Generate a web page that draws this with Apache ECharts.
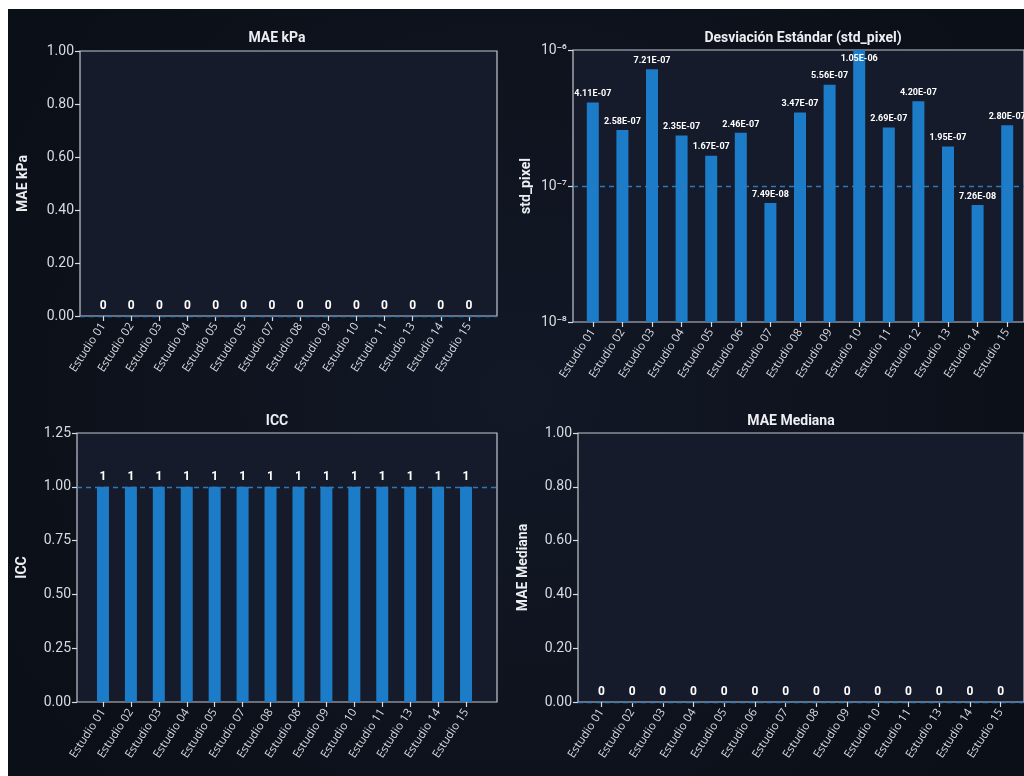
<!DOCTYPE html>
<html>
<head>
<meta charset="utf-8">
<script src="https://cdn.jsdelivr.net/npm/echarts@6/dist/echarts.min.js"></script>
<style>
  html, body { margin: 0; padding: 0; background: #ffffff; overflow: hidden; }
  #chart { position: absolute; left: 8px; top: 9px; width: 1016px; height: 767px; }
</style>
</head>
<body>
<div id="chart"></div>
<script>
// Study labels per metric (as exported for each panel)
const catsMaeKpa = ['Estudio 01','Estudio 02','Estudio 03','Estudio 04','Estudio 05','Estudio 05','Estudio 07','Estudio 08','Estudio 09','Estudio 10','Estudio 11','Estudio 13','Estudio 14','Estudio 15'];
const maeKpa = [0,0,0,0,0,0,0,0,0,0,0,0,0,0];

const catsStd = ['Estudio 01','Estudio 02','Estudio 03','Estudio 04','Estudio 05','Estudio 06','Estudio 07','Estudio 08','Estudio 09','Estudio 10','Estudio 11','Estudio 12','Estudio 13','Estudio 14','Estudio 15'];
const stdPixel = [4.11e-7, 2.58e-7, 7.21e-7, 2.35e-7, 1.67e-7, 2.46e-7, 7.49e-8, 3.47e-7, 5.56e-7, 1.05e-6, 2.69e-7, 4.20e-7, 1.95e-7, 7.26e-8, 2.80e-7];

const catsIcc = ['Estudio 01','Estudio 02','Estudio 03','Estudio 04','Estudio 05','Estudio 07','Estudio 08','Estudio 08','Estudio 09','Estudio 10','Estudio 11','Estudio 13','Estudio 14','Estudio 15'];
const icc = [1,1,1,1,1,1,1,1,1,1,1,1,1,1];

const catsMaeMed = ['Estudio 01','Estudio 02','Estudio 03','Estudio 04','Estudio 05','Estudio 06','Estudio 07','Estudio 08','Estudio 09','Estudio 10','Estudio 11','Estudio 13','Estudio 14','Estudio 15'];
const maeMed = [0,0,0,0,0,0,0,0,0,0,0,0,0,0];

// Reference levels drawn as dashed lines
const refMaeKpa = 0;
const refStd = 1e-7;
const refIcc = 1;
const refMaeMed = 0;

// Log panel range (std_pixel), in powers of ten
const stdLogMin = -8;
const stdLogMax = -6;

const TEXT = '#eceef2';
const TICK = '#d8dbe1';
const FRAME = '#c3c8d0';
const BAR = '#1d7cc8';
const DASH = '#3079b8';
const FONT = 'Roboto, "Noto Sans", sans-serif';

const SUP = { '-': '\u207b', '0': '\u2070', '1': '\u00b9', '2': '\u00b2', '3': '\u00b3', '4': '\u2074', '5': '\u2075', '6': '\u2076', '7': '\u2077', '8': '\u2078', '9': '\u2079' };
function powLabel(exp) {
  const e = String(Math.round(exp));
  return '10' + e.split('').map(c => SUP[c]).join('');
}
function sciLabel(v) {
  const e = Math.floor(Math.log10(v) + 1e-9);
  const m = v / Math.pow(10, e);
  const sign = e < 0 ? '-' : '+';
  return m.toFixed(2) + 'E' + sign + String(Math.abs(e)).padStart(2, '0');
}

// The std panel is plotted in decades above its floor, so bars grow from the bottom
const toDecades = v => Math.log10(v) - stdLogMin;
const decadeSpan = stdLogMax - stdLogMin;

const grids = [], xAxes = [], yAxes = [], series = [], titles = [];

function panel(p) {
  const fi = grids.length;
  // frame grid: background, border, visible y axis, dashed reference line
  grids.push({ left: p.frame.left, top: p.frame.top, width: p.frame.width, height: p.frame.height,
    show: true, backgroundColor: '#151b2b', borderColor: FRAME, borderWidth: 1.2 });
  // bar grid: inset area holding the categories
  grids.push({ left: p.bars.left, top: p.frame.top, width: p.bars.width, height: p.frame.height, show: false });

  const yBase = { type: 'value', min: p.min, max: p.max, interval: p.interval };

  xAxes.push({ gridIndex: fi, type: 'value', min: 0, max: 1, show: false });
  xAxes.push({ gridIndex: fi + 1, type: 'category', data: p.cats,
    axisLine: { show: false },
    axisTick: { show: true, alignWithLabel: true, length: 5, lineStyle: { color: TICK, width: 1.2 } },
    axisLabel: { interval: 0, rotate: 57, color: TICK, fontFamily: '"Open Sans", sans-serif', fontSize: 11.5, margin: 8 },
    splitLine: { show: false } });

  yAxes.push(Object.assign({}, yBase, { gridIndex: fi,
    name: p.yName, nameLocation: 'middle', nameGap: p.nameGap,
    nameTextStyle: { color: TEXT, fontWeight: 'bold', fontSize: 14, fontFamily: FONT },
    axisLine: { show: false },
    axisTick: { show: true, length: 5, lineStyle: { color: TICK, width: 1.2 } },
    axisLabel: { color: TICK, fontSize: 14, fontFamily: FONT, margin: 6, formatter: p.tickFmt },
    splitLine: { show: false } }));
  yAxes.push(Object.assign({}, yBase, { gridIndex: fi + 1, show: false, splitLine: { show: false } }));

  series.push({ type: 'line', xAxisIndex: fi, yAxisIndex: fi, data: [], silent: true,
    markLine: { symbol: 'none', silent: true, label: { show: false },
      lineStyle: { color: DASH, type: [5, 4], width: 1.3 },
      data: [{ yAxis: p.ref }] } });
  series.push({ type: 'bar', xAxisIndex: fi + 1, yAxisIndex: fi + 1,
    // values beyond the axis top get their label inside the clipped bar
    data: p.values.map(v => v > p.max ? { value: v, label: { position: 'insideTop' } } : v),
    barWidth: 12, itemStyle: { color: BAR }, z: 3,
    label: { show: true, position: 'top', distance: 4, color: '#ffffff', fontWeight: 'bold',
      fontSize: p.labelSize, fontFamily: FONT, formatter: d => p.fmt(d) } });

  titles.push({ text: p.title, left: p.titleX, top: p.titleY, textAlign: 'center',
    textStyle: { color: TEXT, fontWeight: 'bold', fontSize: 14, fontFamily: FONT } });
}

panel({ title: 'MAE kPa', titleX: 264, titleY: 17, yName: 'MAE kPa', nameGap: 50,
  frame: { left: 72, top: 42, width: 417, height: 265 }, bars: { left: 81, width: 394 },
  cats: catsMaeKpa, values: maeKpa, min: 0, max: 1, interval: 0.2, ref: refMaeKpa,
  tickFmt: v => v.toFixed(2), labelSize: 12, fmt: d => String(d.value) });

panel({ title: 'Desviación Estándar (std_pixel)', titleX: 790, titleY: 17, yName: 'std_pixel', nameGap: 40,
  frame: { left: 565, top: 41, width: 480, height: 272 }, bars: { left: 570, width: 444 },
  cats: catsStd, values: stdPixel.map(toDecades), min: 0, max: decadeSpan, interval: 1, ref: toDecades(refStd),
  tickFmt: v => powLabel(v + stdLogMin),
  labelSize: 9, fmt: d => sciLabel(stdPixel[d.dataIndex]) });

panel({ title: 'ICC', titleX: 264, titleY: 400, yName: 'ICC', nameGap: 48,
  frame: { left: 69, top: 424, width: 420, height: 269 }, bars: { left: 81, width: 391 },
  cats: catsIcc, values: icc, min: 0, max: 1.25, interval: 0.25, ref: refIcc,
  tickFmt: v => v.toFixed(2), labelSize: 12, fmt: d => String(d.value) });

panel({ title: 'MAE Mediana', titleX: 778, titleY: 400, yName: 'MAE Mediana', nameGap: 48,
  frame: { left: 570, top: 424, width: 480, height: 269 }, bars: { left: 578, width: 430 },
  cats: catsMaeMed, values: maeMed, min: 0, max: 1, interval: 0.2, ref: refMaeMed,
  tickFmt: v => v.toFixed(2), labelSize: 12, fmt: d => String(d.value) });

const chart = echarts.init(document.getElementById('chart'));
chart.setOption({
  backgroundColor: {
    type: 'radial', x: 0.5, y: 0.5, r: 0.75,
    colorStops: [{ offset: 0, color: '#121826' }, { offset: 1, color: '#0b0f17' }]
  },
  animation: false,
  title: titles,
  grid: grids,
  xAxis: xAxes,
  yAxis: yAxes,
  series: series
});
</script>
</body>
</html>
